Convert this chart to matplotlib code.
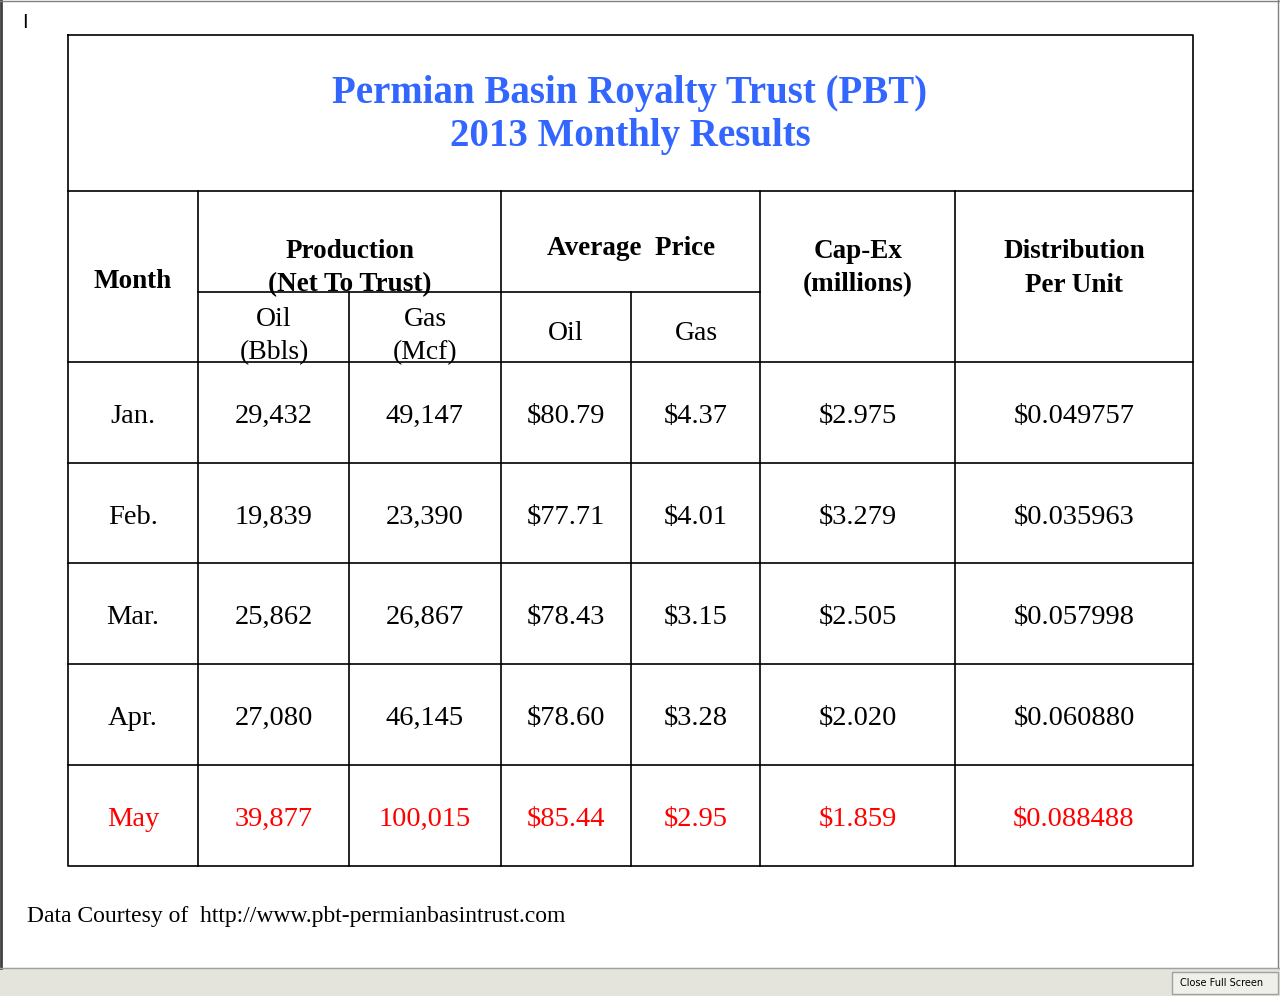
import matplotlib
matplotlib.use("Agg")
import matplotlib.pyplot as plt

months = ["Jan.", "Feb.", "Mar.", "Apr.", "May"]
oil_bbls = ["29,432", "19,839", "25,862", "27,080", "39,877"]
gas_mcf = ["49,147", "23,390", "26,867", "46,145", "100,015"]
oil_price = ["$80.79", "$77.71", "$78.43", "$78.60", "$85.44"]
gas_price = ["$4.37", "$4.01", "$3.15", "$3.28", "$2.95"]
capex = ["$2.975", "$3.279", "$2.505", "$2.020", "$1.859"]
dist = ["$0.049757", "$0.035963", "$0.057998", "$0.060880", "$0.088488"]
title = "Permian Basin Royalty Trust (PBT)\n2013 Monthly Results"
footer = "Data Courtesy of  http://www.pbt-permianbasintrust.com"

fig = plt.figure(figsize=(12.8, 9.96), dpi=100)
ax = fig.add_axes([0, 0, 1, 1])
ax.set_xlim(0, 1280); ax.set_ylim(996, 0); ax.axis("off")
SERIF = "Liberation Serif"
K = dict(color="black", lw=1.2)

xs = [68, 198, 349, 501, 631, 760, 955, 1193]
rows = [362, 463, 563, 664, 765, 866]
ax.plot([68, 1193, 1193, 68, 68], [35, 35, 866, 866, 35], **K)
ax.plot([68, 1193], [191, 191], **K)
ax.plot([198, 760], [292, 292], **K)
for y in rows[:-1]:
    ax.plot([68, 1193], [y, y], **K)
for x in [198, 501, 760, 955]:
    ax.plot([x, x], [191, 866], **K)
for x in [349, 631]:
    ax.plot([x, x], [292, 866], **K)

ax.text(630, 115, title, ha="center", va="center", fontsize=28, fontweight="bold",
        color="#3366FF", family=SERIF, linespacing=1.2)

hb = dict(ha="center", va="center_baseline", fontsize=19.5, fontweight="bold", family=SERIF)
ax.text(133, 278, "Month", **hb)
ax.text(350, 261, "Production\n(Net To Trust)", linespacing=1.45, **hb)
ax.text(631, 245, "Average  Price", **hb)
ax.text(858, 261, "Cap-Ex\n(millions)", linespacing=1.45, **hb)
ax.text(1074, 261, "Distribution\nPer Unit", linespacing=1.45, **hb)
hn = dict(ha="center", va="center_baseline", fontsize=20, family=SERIF)
ax.text(274, 329, "Oil\n(Bbls)", linespacing=1.45, **hn)
ax.text(425, 329, "Gas\n(Mcf)", linespacing=1.45, **hn)
ax.text(566, 330, "Oil", **hn)
ax.text(696, 330, "Gas", **hn)

cols = [months, oil_bbls, gas_mcf, oil_price, gas_price, capex, dist]
for i in range(len(months)):
    yc = (rows[i] + rows[i + 1]) / 2
    c = "red" if i == len(months) - 1 else "black"
    for j, col in enumerate(cols):
        xc = (xs[j] + xs[j + 1]) / 2
        ax.text(xc, yc + 1, col[i], ha="center", va="center_baseline", fontsize=20.5,
                family=SERIF, color=c)

ax.text(27, 914, footer, ha="left", va="center_baseline", fontsize=17, family=SERIF)
ax.text(25, 22, "I", ha="center", va="center", fontsize=14, family="DejaVu Sans")

ax.plot([1, 1], [0, 968], color="#404040", lw=2)
ax.plot([0, 1280], [1, 1], color="#808080", lw=1)
ax.plot([1278, 1278], [0, 968], color="#808080", lw=1)
ax.add_patch(plt.Rectangle((0, 968), 1280, 28, color="#E4E3DC", zorder=1))
ax.plot([0, 1280], [968, 968], color="#A0A0A0", lw=1)
ax.add_patch(plt.Rectangle((1172, 972), 106, 22, facecolor="#F0F0EA", edgecolor="#A0A0A0", zorder=2))
ax.text(1222, 983, "Close Full Screen", ha="center", va="center", fontsize=7, family="DejaVu Sans", zorder=3)

fig.savefig("out.png", dpi=100)
